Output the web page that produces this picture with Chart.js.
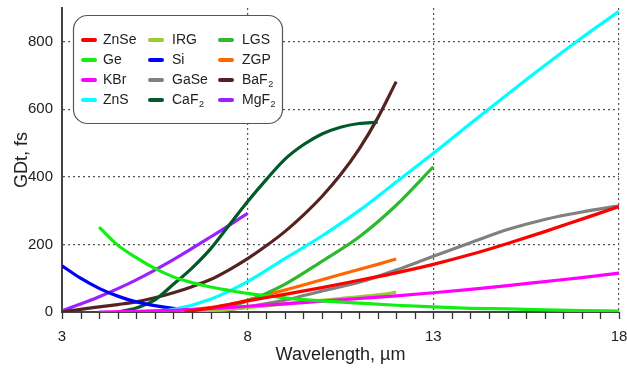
<!DOCTYPE html>
<html>
<head>
<meta charset="utf-8">
<script src="https://cdn.jsdelivr.net/npm/chart.js@4.4.0/dist/chart.umd.min.js"></script>
<style>body{margin:0;background:#fff}</style>
</head>
<body>
<canvas id="gdChart" width="627" height="373"></canvas>
<script>
// [wavelength um, GDt fs]
var ZnSe = [[6.3,0],[7,12],[8,33],[9,52],[10,72],[11,94],[12,116],[13,141],[14,170],[15,203],[16,238],[17,275],[18,312]];
var Ge   = [[4,251],[4.5,198],[5,161],[5.5,129],[6,104],[6.5,87],[7,74],[7.5,64],[8,55],[9,42],[10,33],[11,26],[12,20],[13,15],[14,11],[15,9],[16,6],[17,4],[18,3]];
var KBr  = [[4,0],[5,2],[6,5],[7,10],[8,17],[9,24],[10,32],[11,40],[12,48],[13,57],[14,67],[15,78],[16,90],[17,102],[18,115]];
var ZnS  = [[5,0],[6,8],[7,38],[8,90],[9,158],[10,225],[11,300],[12,385],[13,470],[14,558],[15,645],[16,730],[17,812],[18,890]];
var IRG  = [[6.5,0],[7.5,8],[8.5,18],[9.5,30],[10.5,40],[11.5,51],[12,58]];
var Si   = [[3,137],[3.5,100],[4,70],[4.5,47],[5,30],[5.5,19],[6,11],[6.6,5]];
var GaSe = [[7,0],[8,15],[9,35],[10,62],[11,88],[12,124],[13,165],[14,205],[15,244],[16,274],[17,296],[18,314]];
var CaF2 = [[4.5,0],[5,12],[5.5,36],[6,82],[6.5,130],[7,187],[7.5,257],[8,327],[8.5,392],[9,452],[9.5,495],[10,527],[10.5,547],[11,558],[11.5,562]];
var LGS  = [[7,0],[8,33],[9,82],[10,150],[11,222],[12,316],[13,430]];
var ZGP  = [[5.5,0],[6.5,7],[7.5,22],[8.5,50],[9.5,80],[10.5,111],[11.5,141],[12,157]];
var BaF2 = [[3,0],[3.5,8],[4,15],[4.5,22],[5,30],[5.5,42],[6,57],[6.5,75],[7,96],[7.5,125],[8,158],[8.5,196],[9,238],[9.5,287],[10,342],[10.5,406],[11,482],[11.5,574],[12,682]];
var MgF2 = [[3,3],[4,45],[5,95],[6,155],[7,222],[8,292]];

var labels = ['ZnSe','Ge','KBr','ZnS','IRG','Si','GaSe','CaF₂','LGS','ZGP','BaF₂','MgF₂'];
var series = [ZnSe, Ge, KBr, ZnS, IRG, Si, GaSe, CaF2, LGS, ZGP, BaF2, MgF2];
var colors = ['#ff0000','#11ee11','#ff00ff','#00ffff','#99cc33','#0000ff','#808080','#005a28','#2db82d','#ff6600','#552222','#9922ff'];
var xLabels = [3, 8, 13, 18];

Chart.defaults.font.family = '"Liberation Sans", Arial, sans-serif';
Chart.defaults.color = '#222';

var datasets = [];
for (var i = 0; i < series.length; i++) {
    datasets.push({
        label: labels[i],
        data: series[i].map(function (p) { return {x: p[0], y: p[1]}; }),
        borderColor: colors[i],
        backgroundColor: colors[i],
        borderWidth: 3.2,
        pointRadius: 0,
        cubicInterpolationMode: 'monotone',
        fill: false
    });
}

// legend drawn as a rounded box, 3 columns of 4
var boxLegend = {
    id: 'boxLegend',
    afterDraw: function (chart) {
        var ctx = chart.ctx;
        ctx.save();
        ctx.beginPath();
        ctx.roundRect(73.5, 15.5, 209, 108, 14);
        ctx.fillStyle = '#fff';
        ctx.fill();
        ctx.lineWidth = 1.2;
        ctx.strokeStyle = '#555';
        ctx.stroke();
        var swX = [83, 150, 220], txX = [103, 172, 242];
        chart.data.datasets.forEach(function (ds, k) {
            var col = Math.floor(k / 4), row = k % 4;
            var y = 40 + row * 20;
            ctx.beginPath();
            ctx.moveTo(swX[col], y);
            ctx.lineTo(swX[col] + 12, y);
            ctx.lineWidth = 4;
            ctx.lineCap = 'round';
            ctx.strokeStyle = ds.borderColor;
            ctx.stroke();
            ctx.fillStyle = '#222';
            ctx.textBaseline = 'middle';
            ctx.textAlign = 'left';
            var parts = ds.label.split('₂');
            ctx.font = '14px "Liberation Sans", Arial, sans-serif';
            ctx.fillText(parts[0], txX[col], y);
            if (parts.length > 1) {
                var w = ctx.measureText(parts[0]).width;
                ctx.font = '9px "Liberation Sans", Arial, sans-serif';
                ctx.fillText('2', txX[col] + w + 0.5, y + 5);
            }
        });
        ctx.restore();
    }
};

// small tick marks under the x axis every 0.5 um
var xTickMarks = {
    id: 'xTickMarks',
    afterDraw: function (chart) {
        var ctx = chart.ctx, xs = chart.scales.x, b = chart.chartArea.bottom;
        ctx.save();
        ctx.strokeStyle = '#333';
        ctx.lineWidth = 1.3;
        ctx.setLineDash([]);
        xs.ticks.forEach(function (t) {
            var px = Math.round(xs.getPixelForValue(t.value)) + 0.5;
            ctx.beginPath();
            ctx.moveTo(px, b);
            ctx.lineTo(px, b + 7);
            ctx.stroke();
        });
        ctx.restore();
    }
};

var context = document.getElementById('gdChart').getContext('2d');
var gdChart = new Chart(context, {
    type: 'line',
    data: { datasets: datasets },
    plugins: [boxLegend, xTickMarks],
    options: {
        responsive: false,
        animation: false,
        devicePixelRatio: 1,
        layout: { padding: { top: 8, right: 8, left: 11, bottom: 7 } },
        plugins: { legend: { display: false }, tooltip: { enabled: false } },
        scales: {
            x: {
                type: 'linear',
                min: 3,
                max: 18,
                afterFit: function (scale) {
                    scale.height = 54;
                    scale.paddingLeft = 0;
                    scale.paddingRight = 0;
                },
                ticks: {
                    stepSize: 0.5,
                    autoSkip: false,
                    maxRotation: 0,
                    padding: 16,
                    font: { size: 15 },
                    callback: function (v) { return xLabels.indexOf(v) >= 0 ? String(v) : ''; }
                },
                grid: {
                    color: function (c) { return c.tick && xLabels.indexOf(c.tick.value) >= 0 ? '#555' : 'rgba(0,0,0,0)'; },
                    lineWidth: 1.2,
                    drawTicks: false
                },
                border: { color: '#444', width: 2, dash: [2, 3] },
                title: { display: true, text: 'Wavelength, µm', font: { size: 18 }, padding: { top: 0, bottom: 0 } }
            },
            y: {
                min: 0,
                max: 900,
                afterFit: function (scale) {
                    scale.width = 51;
                    scale.paddingTop = 0;
                    scale.paddingBottom = 0;
                },
                ticks: {
                    stepSize: 200,
                    includeBounds: false,
                    padding: 9,
                    font: { size: 15 }
                },
                grid: {
                    color: '#555',
                    lineWidth: 1.2,
                    drawTicks: false
                },
                border: { color: '#444', width: 2, dash: [2, 3] },
                title: { display: true, text: 'GDt, fs', font: { size: 18 }, padding: { top: 0, bottom: 0 } }
            }
        }
    }
});
</script>
</body>
</html>
